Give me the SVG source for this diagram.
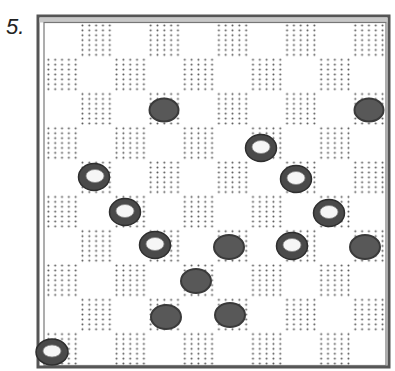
<svg xmlns="http://www.w3.org/2000/svg" width="395" height="371" viewBox="0 0 395 371">
<style>
.dk{fill:url(#dots)}
.solid{fill:#585858;stroke:#3a3a3a;stroke-width:2}
.ring{fill:#4a4a4a;stroke:#2e2e2e;stroke-width:1.5}
.hole{fill:#f6f6f6;stroke:#888;stroke-width:0.8}
.lbl{font-family:"Liberation Sans",Arial,sans-serif;font-style:italic;font-size:22px;fill:#222}
</style>
<defs>
<pattern id="dots" patternUnits="userSpaceOnUse" x="45" y="23" width="6.82" height="4.9">
<circle cx="3.4" cy="2.4" r="1" fill="#555"/>
</pattern>
</defs>
<rect width="395" height="371" fill="#fff"/>
<text class="lbl" x="6" y="34">5.</text>
<g id="frame">
<rect x="38" y="16" width="351" height="351" fill="#fff" stroke="#555" stroke-width="3"/>
<rect x="39.5" y="17.5" width="348" height="5" fill="#c8c8c8"/>
<rect x="44" y="22.5" width="342" height="343" fill="#fff" stroke="#777" stroke-width="1.2"/>
</g>
<g id="board">
<g id="row0"><rect class="dk" x="79.1" y="23" width="34.1" height="34.3"/><rect class="dk" x="147.3" y="23" width="34.1" height="34.3"/><rect class="dk" x="215.5" y="23" width="34.1" height="34.3"/><rect class="dk" x="283.7" y="23" width="34.1" height="34.3"/><rect class="dk" x="351.9" y="23" width="34.1" height="34.3"/></g>
<g id="row1"><rect class="dk" x="45" y="57.3" width="34.1" height="34.3"/><rect class="dk" x="113.2" y="57.3" width="34.1" height="34.3"/><rect class="dk" x="181.4" y="57.3" width="34.1" height="34.3"/><rect class="dk" x="249.6" y="57.3" width="34.1" height="34.3"/><rect class="dk" x="317.8" y="57.3" width="34.1" height="34.3"/></g>
<g id="row2"><rect class="dk" x="79.1" y="91.6" width="34.1" height="34.3"/><rect class="dk" x="147.3" y="91.6" width="34.1" height="34.3"/><rect class="dk" x="215.5" y="91.6" width="34.1" height="34.3"/><rect class="dk" x="283.7" y="91.6" width="34.1" height="34.3"/><rect class="dk" x="351.9" y="91.6" width="34.1" height="34.3"/></g>
<g id="row3"><rect class="dk" x="45" y="125.9" width="34.1" height="34.3"/><rect class="dk" x="113.2" y="125.9" width="34.1" height="34.3"/><rect class="dk" x="181.4" y="125.9" width="34.1" height="34.3"/><rect class="dk" x="249.6" y="125.9" width="34.1" height="34.3"/><rect class="dk" x="317.8" y="125.9" width="34.1" height="34.3"/></g>
<g id="row4"><rect class="dk" x="79.1" y="160.2" width="34.1" height="34.3"/><rect class="dk" x="147.3" y="160.2" width="34.1" height="34.3"/><rect class="dk" x="215.5" y="160.2" width="34.1" height="34.3"/><rect class="dk" x="283.7" y="160.2" width="34.1" height="34.3"/><rect class="dk" x="351.9" y="160.2" width="34.1" height="34.3"/></g>
<g id="row5"><rect class="dk" x="45" y="194.5" width="34.1" height="34.3"/><rect class="dk" x="113.2" y="194.5" width="34.1" height="34.3"/><rect class="dk" x="181.4" y="194.5" width="34.1" height="34.3"/><rect class="dk" x="249.6" y="194.5" width="34.1" height="34.3"/><rect class="dk" x="317.8" y="194.5" width="34.1" height="34.3"/></g>
<g id="row6"><rect class="dk" x="79.1" y="228.8" width="34.1" height="34.3"/><rect class="dk" x="147.3" y="228.8" width="34.1" height="34.3"/><rect class="dk" x="215.5" y="228.8" width="34.1" height="34.3"/><rect class="dk" x="283.7" y="228.8" width="34.1" height="34.3"/><rect class="dk" x="351.9" y="228.8" width="34.1" height="34.3"/></g>
<g id="row7"><rect class="dk" x="45" y="263.1" width="34.1" height="34.3"/><rect class="dk" x="113.2" y="263.1" width="34.1" height="34.3"/><rect class="dk" x="181.4" y="263.1" width="34.1" height="34.3"/><rect class="dk" x="249.6" y="263.1" width="34.1" height="34.3"/><rect class="dk" x="317.8" y="263.1" width="34.1" height="34.3"/></g>
<g id="row8"><rect class="dk" x="79.1" y="297.4" width="34.1" height="34.3"/><rect class="dk" x="147.3" y="297.4" width="34.1" height="34.3"/><rect class="dk" x="215.5" y="297.4" width="34.1" height="34.3"/><rect class="dk" x="283.7" y="297.4" width="34.1" height="34.3"/><rect class="dk" x="351.9" y="297.4" width="34.1" height="34.3"/></g>
<g id="row9"><rect class="dk" x="45" y="331.7" width="34.1" height="33.8"/><rect class="dk" x="113.2" y="331.7" width="34.1" height="33.8"/><rect class="dk" x="181.4" y="331.7" width="34.1" height="33.8"/><rect class="dk" x="249.6" y="331.7" width="34.1" height="33.8"/><rect class="dk" x="317.8" y="331.7" width="34.1" height="33.8"/></g>
</g>
<g id="black-pieces">
<g id="b1"><ellipse class="solid" cx="164" cy="110" rx="14.5" ry="11.5"/></g>
<g id="b2"><ellipse class="solid" cx="369" cy="110" rx="14.5" ry="11.5"/></g>
<g id="b3"><ellipse class="solid" cx="229" cy="247" rx="15" ry="12"/></g>
<g id="b4"><ellipse class="solid" cx="365" cy="247" rx="15" ry="12"/></g>
<g id="b5"><ellipse class="solid" cx="196" cy="281" rx="15" ry="12"/></g>
<g id="b6"><ellipse class="solid" cx="166" cy="317" rx="15" ry="12"/></g>
<g id="b7"><ellipse class="solid" cx="230" cy="315" rx="15" ry="12"/></g>
</g>
<g id="white-pieces">
<g id="w1"><ellipse class="ring" cx="261" cy="148" rx="15.5" ry="13.5"/><ellipse class="hole" cx="261" cy="147" rx="9" ry="6.5"/></g>
<g id="w2"><ellipse class="ring" cx="94" cy="177" rx="15.5" ry="13.5"/><ellipse class="hole" cx="95" cy="176" rx="9" ry="6.5"/></g>
<g id="w3"><ellipse class="ring" cx="296" cy="179" rx="15.5" ry="13.5"/><ellipse class="hole" cx="296" cy="178" rx="9" ry="6.5"/></g>
<g id="w4"><ellipse class="ring" cx="125" cy="212" rx="15.5" ry="13.5"/><ellipse class="hole" cx="125" cy="211" rx="9" ry="6.5"/></g>
<g id="w5"><ellipse class="ring" cx="329" cy="213" rx="15.5" ry="13.5"/><ellipse class="hole" cx="329" cy="212" rx="9" ry="6.5"/></g>
<g id="w6"><ellipse class="ring" cx="155" cy="245" rx="15.5" ry="13.5"/><ellipse class="hole" cx="155" cy="244" rx="9" ry="6.5"/></g>
<g id="w7"><ellipse class="ring" cx="292" cy="246" rx="15.5" ry="13.5"/><ellipse class="hole" cx="292" cy="245" rx="9" ry="6.5"/></g>
<g id="w8"><ellipse class="ring" cx="52" cy="352" rx="16" ry="13"/><ellipse class="hole" cx="52" cy="351" rx="9" ry="6"/></g>
</g>
<g id="connectors"/>
</svg>
